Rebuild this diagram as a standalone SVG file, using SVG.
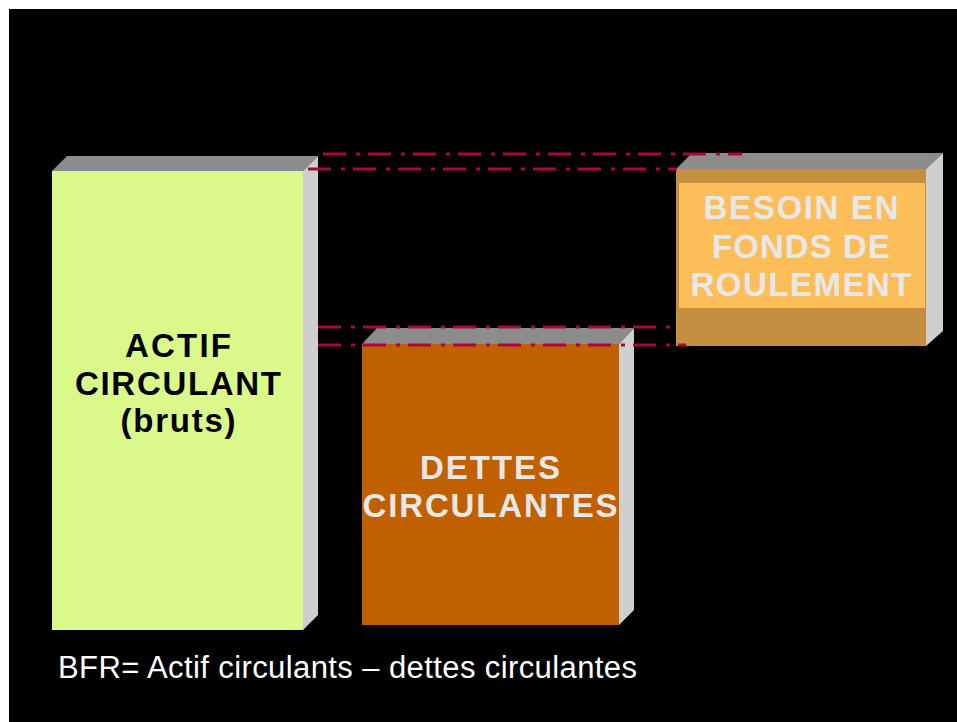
<svg xmlns="http://www.w3.org/2000/svg" width="957" height="722" viewBox="0 0 957 722">
<style>
.top{fill:#8c8c8c}
.side{fill:#cfcfcf}
.lbl{font-family:"Liberation Sans",Arial,sans-serif;font-weight:bold;font-size:33px;text-anchor:middle}
.dd{fill:none;stroke:#a8083c;stroke-width:3;stroke-dasharray:23 10 4 8}
</style>
<rect x="0" y="0" width="957" height="722" fill="#ffffff"/>
<rect x="9" y="9" width="948" height="713" fill="#000000"/>
<g id="actif">
<polygon class="top" points="52,171 67,156 318,156 303,171"/>
<polygon class="side" points="303,171 318,156 318,615 303,630"/>
<rect x="52" y="171" width="251" height="459" fill="#daf98a"/>
<text class="lbl" fill="#000000"><tspan x="178" y="357" textLength="106">ACTIF</tspan><tspan x="178" y="395" textLength="206">CIRCULANT</tspan><tspan x="178" y="432" textLength="115">(bruts)</tspan></text>
</g>
<g id="dettes">
<polygon class="top" points="362,344 377,328 634,328 619,344"/>
<polygon class="side" points="619,344 634,328 634,610 619,625"/>
<rect x="362" y="344" width="257" height="281" fill="#c06000"/>
<text class="lbl" fill="#e8e8e8"><tspan x="490" y="479" textLength="140">DETTES</tspan><tspan x="490" y="517" textLength="255">CIRCULANTES</tspan></text>
</g>
<g id="bfr">
<polygon class="top" points="676,169 692,153 943,153 926,169"/>
<polygon class="side" points="926,169 943,153 943,331 926,346"/>
<rect x="676" y="169" width="250" height="177" fill="#c48f40"/>
<rect x="679" y="183" width="246" height="125" fill="#fdbe5a"/>
<text class="lbl" fill="#e8e8e8"><tspan x="801" y="219" textLength="195">BESOIN EN</tspan><tspan x="801" y="258" textLength="178">FONDS DE</tspan><tspan x="801" y="296" textLength="221">ROULEMENT</tspan></text>
</g>
<g id="connectors">
<line class="dd" x1="323" y1="154" x2="742" y2="154"/>
<line class="dd" x1="308" y1="169" x2="677" y2="169"/>
<line class="dd" x1="318" y1="327" x2="676" y2="327"/>
<line class="dd" x1="318" y1="345" x2="686" y2="345"/>
</g>
<text x="58" y="678" font-family="'Liberation Sans',Arial,sans-serif" font-size="31" fill="#ffffff" textLength="579">BFR= Actif circulants – dettes circulantes</text>
</svg>
